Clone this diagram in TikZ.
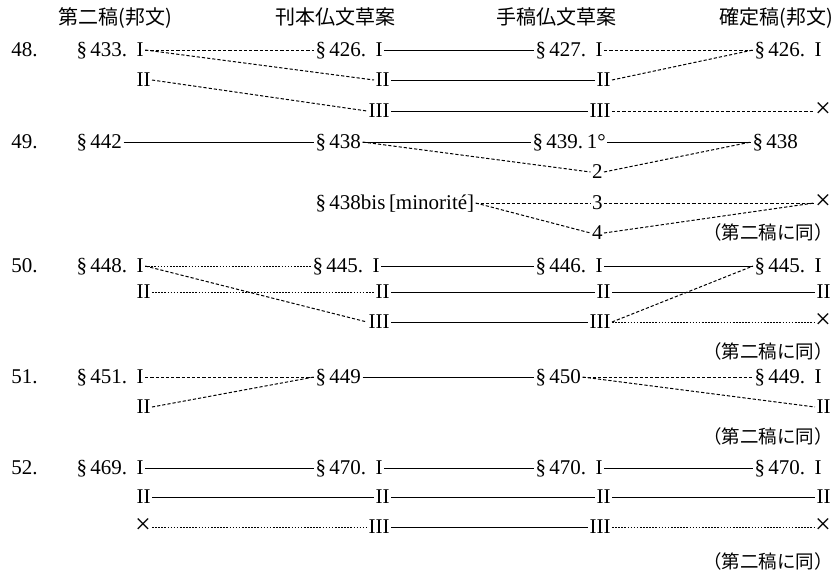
\documentclass[tikz,border=0pt]{standalone}
\usepackage{fontspec}
\setmainfont{Liberation Serif}
\newfontfamily\jp{Noto Sans CJK JP}
\begin{document}
\begin{tikzpicture}[x=1pt,y=-1pt,
  every node/.style={inner sep=1.5pt, outer sep=0pt, font=\fontsize{21}{24}\selectfont, text height=13pt, text depth=1pt},
  L/.style={anchor=west}, R/.style={anchor=east},
  xx/.style={anchor=east, inner sep=1pt, font=\fontsize{28}{28}\selectfont, text height=1.2em, text depth=0pt},
  hd/.style={font=\jp\fontsize{20}{24}\selectfont},
  nt/.style={anchor=east, font=\jp\fontsize{18.5}{22}\selectfont},
  sol/.style={line width=1pt},
  dsh/.style={line width=1pt, dash pattern=on 3.2pt off 2pt},
  dtt/.style={line width=0.9pt, dash pattern=on 1.6pt off 1.5pt}]
\useasboundingbox (0,0) rectangle (840,579);
% headers
\node[hd] (h1) at (115,18) {第二稿(邦文)};
\node[hd] (h2) at (335,18) {刊本仏文草案};
\node[hd] (h3) at (556,18) {手稿仏文草案};
\node[hd] (h4) at (776,18) {確定稿(邦文)};
% row numbers
\node[L] (n48) at (10,50) {48.};
\node[L] (n49) at (10,142) {49.};
\node[L] (n50) at (10,266) {50.};
\node[L] (n51) at (10,377) {51.};
\node[L] (n52) at (10,468) {52.};
% ---- 48
\node[L] (a1) at (75,50) {§\,433.\hspace{0.45em}I};
\node[R] (a2) at (152,80) {II};
\node[L] (b1) at (314,50) {§\,426.\hspace{0.45em}I};
\node[R] (b2) at (391,80) {II};
\node[R] (b3) at (391,111) {III};
\node[L] (c1) at (534,50) {§\,427.\hspace{0.45em}I};
\node[R] (c2) at (612,80) {II};
\node[R] (c3) at (612,111) {III};
\node[L] (d1) at (753,50) {§\,426.\hspace{0.45em}I};
\node[xx] (dx) at (832,111) {×};
\draw[dsh] (a1.east) -- (b1.west);
\draw[dsh] (a1.east) -- (b2.west);
\draw[dsh] (a2.east) -- (b3.west);
\draw[sol] (b1) -- (c1);
\draw[sol] (b2) -- (c2);
\draw[sol] (b3) -- (c3);
\draw[dsh] (c1.east) -- (d1.west);
\draw[dsh] (c2.east) -- (d1.west);
\draw[dsh] (c3.east) -- (dx.west);
% ---- 49
\node[L] (e1) at (75,142) {§\,442};
\node[L] (f1) at (314,142) {§\,438};
\node[L] (fb) at (314,203) {§\,438bis\,[minorité]};
\node[L] (g1) at (531,142) {§\,439.\,1°};
\node[R] (g2) at (604,172) {2};
\node[R] (g3) at (604,203) {3};
\node[R] (g4) at (604,233) {4};
\node[L] (h1n) at (751,142) {§\,438};
\node[xx] (hx) at (832,203) {×};
\node[nt] (w49) at (834,233) {（第二稿に同）};
\draw[sol] (e1) -- (f1);
\draw[sol] (f1) -- (g1);
\draw[dsh] (f1.east) -- (g2.west);
\draw[sol] (g1) -- (h1n);
\draw[dsh] (g2.east) -- (h1n.west);
\draw[dsh] (fb.east) -- (g3.west);
\draw[dsh] (fb.east) -- (g4.west);
\draw[dsh] (g3.east) -- (hx.west);
\draw[dsh] (g4.east) -- (hx.west);
% ---- 50
\node[L] (i1) at (75,266) {§\,448.\hspace{0.45em}I};
\node[R] (i2) at (152,292) {II};
\node[L] (j1) at (311,266) {§\,445.\hspace{0.45em}I};
\node[R] (j2) at (391,292) {II};
\node[R] (j3) at (391,322) {III};
\node[L] (k1) at (534,266) {§\,446.\hspace{0.45em}I};
\node[R] (k2) at (612,292) {II};
\node[R] (k3) at (612,322) {III};
\node[L] (l1) at (753,266) {§\,445.\hspace{0.45em}I};
\node[R] (l2) at (832,292) {II};
\node[xx] (lx) at (832,322) {×};
\node[nt] (w50) at (834,352) {（第二稿に同）};
\draw[dtt] (i1.east) -- (j1.west);
\draw[dsh] (i1.east) -- (j3.west);
\draw[dtt] (i2.east) -- (j2.west);
\draw[sol] (j1) -- (k1);
\draw[sol] (j2) -- (k2);
\draw[sol] (j3) -- (k3);
\draw[sol] (k1) -- (l1);
\draw[sol] (k2) -- (l2);
\draw[dsh] (k3.east) -- (l1.west);
\draw[dtt] (k3.east) -- (lx.west);
% ---- 51
\node[L] (m1) at (75,377) {§\,451.\hspace{0.45em}I};
\node[R] (m2) at (152,407) {II};
\node[L] (o0) at (314,377) {§\,449};
\node[L] (o1) at (534,377) {§\,450};
\node[L] (p1) at (753,377) {§\,449.\hspace{0.45em}I};
\node[R] (p2) at (832,407) {II};
\node[nt] (w51) at (834,437) {（第二稿に同）};
\draw[dsh] (m1.east) -- (o0.west);
\draw[dsh] (m2.east) -- (o0.west);
\draw[sol] (o0) -- (o1);
\draw[dsh] (o1.east) -- (p1.west);
\draw[dsh] (o1.east) -- (p2.west);
% ---- 52
\node[L] (q1) at (75,468) {§\,469.\hspace{0.45em}I};
\node[R] (q2) at (152,497) {II};
\node[xx] (qx) at (152,527) {×};
\node[L] (r1) at (314,468) {§\,470.\hspace{0.45em}I};
\node[R] (r2) at (391,497) {II};
\node[R] (r3) at (391,527) {III};
\node[L] (s1) at (534,468) {§\,470.\hspace{0.45em}I};
\node[R] (s2) at (612,497) {II};
\node[R] (s3) at (612,527) {III};
\node[L] (t1) at (753,468) {§\,470.\hspace{0.45em}I};
\node[R] (t2) at (832,497) {II};
\node[xx] (tx) at (832,527) {×};
\node[nt] (w52) at (834,562) {（第二稿に同）};
\draw[sol] (q1) -- (r1);
\draw[sol] (q2) -- (r2);
\draw[dtt] (qx.east) -- (r3.west);
\draw[sol] (r1) -- (s1);
\draw[sol] (r2) -- (s2);
\draw[sol] (r3) -- (s3);
\draw[sol] (s1) -- (t1);
\draw[sol] (s2) -- (t2);
\draw[dtt] (s3.east) -- (tx.west);
\end{tikzpicture}
\end{document}
